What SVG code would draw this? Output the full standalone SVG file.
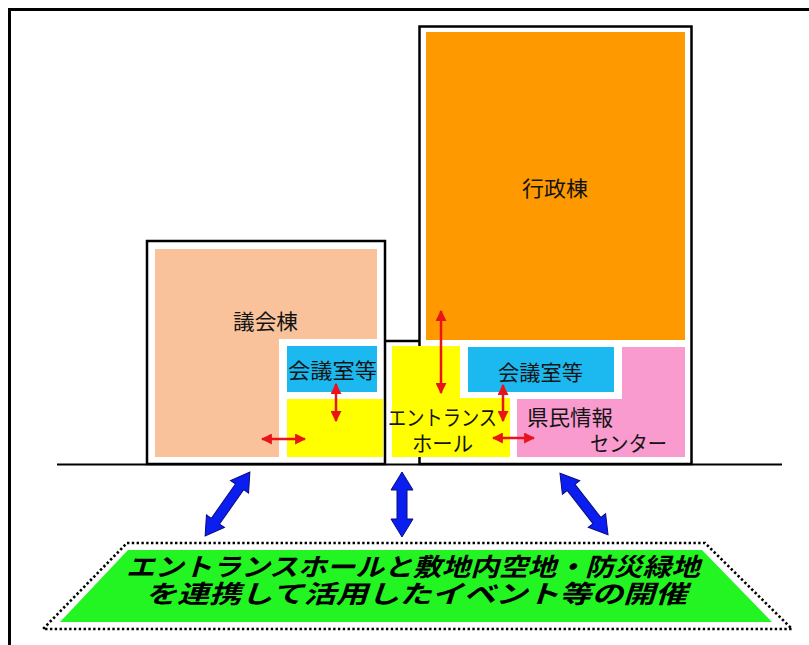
<svg xmlns="http://www.w3.org/2000/svg" width="809" height="645" viewBox="0 0 809 645">
<defs>
<style>
.lbl{font-family:"Noto Sans CJK JP","Noto Sans CJK SC",sans-serif;font-size:21px;fill:#141414}
.big{font-family:"Noto Sans CJK JP","Noto Sans CJK SC",sans-serif;font-size:25px;font-weight:bold;font-style:italic;fill:#000}
.bld{fill:none;stroke:#000;stroke-width:2.5}
.red{stroke:#e8141a;stroke-width:2.5;fill:none;marker-start:url(#rh);marker-end:url(#rh)}
.blu{fill:#0a1ef0;stroke:#0a0a80;stroke-width:1}
</style>
<marker id="rh" viewBox="0 0 10 10" refX="9" refY="5" markerWidth="4.4" markerHeight="4.4" orient="auto-start-reverse">
<path d="M0,0 L10,5 L0,10 z" fill="#e8141a"/>
</marker>
<path id="ba65" d="M-32.5,0 L-14.5,-11 L-14.5,-5 L14.5,-5 L14.5,-11 L32.5,0 L14.5,11 L14.5,5 L-14.5,5 L-14.5,11 Z"/>
<path id="ba78" d="M-39,0 L-21,-11 L-21,-5 L21,-5 L21,-11 L39,0 L21,11 L21,5 L-21,5 L-21,11 Z"/>
</defs>
<rect width="809" height="645" fill="#fff"/>
<path d="M9.5,645 V9.5 H809" fill="none" stroke="#000" stroke-width="3"/>

<g id="gikai">
<path d="M155,249 H377 V339 H279 V457 H155 Z" fill="#f9c29a"/>
<rect x="287" y="346" width="90" height="46" fill="#1cb9f0"/>
<rect x="287" y="399" width="96" height="58" fill="#ffff00"/>
<rect class="bld" x="147" y="241" width="238" height="223"/>
<text class="lbl" x="233" y="329" textLength="65" lengthAdjust="spacingAndGlyphs">議会棟</text>
<text class="lbl" x="288" y="378" textLength="89" lengthAdjust="spacingAndGlyphs">会議室等</text>
</g>

<g id="gyosei">
<rect x="426" y="32" width="259" height="308" fill="#ff9900"/>
<rect class="bld" x="419.5" y="26.5" width="272" height="437.5"/>
<text class="lbl" x="522" y="196" textLength="66" lengthAdjust="spacingAndGlyphs">行政棟</text>
</g>

<g id="entrance">
<path d="M392,346 H460 V398 H510 V457 H392 Z" fill="#ffff00"/>
<path class="bld" d="M385,341 H419.5"/>
<text class="lbl" x="388" y="425" textLength="109" lengthAdjust="spacingAndGlyphs">エントランス</text>
<text class="lbl" x="412" y="451" textLength="61" lengthAdjust="spacingAndGlyphs">ホール</text>
</g>

<g id="kaigi2">
<rect x="468" y="347" width="146" height="45" fill="#1cb9f0"/>
<text class="lbl" x="498" y="380" textLength="85" lengthAdjust="spacingAndGlyphs">会議室等</text>
</g>

<g id="kenmin">
<path d="M622,347 H685 V457 H517 V399 H622 Z" fill="#f99bcf"/>
<text class="lbl" x="527" y="425" textLength="86" lengthAdjust="spacingAndGlyphs">県民情報</text>
<text class="lbl" x="590" y="451" textLength="77" lengthAdjust="spacingAndGlyphs">センター</text>
</g>

<path d="M57,464.5 H782" stroke="#000" stroke-width="1.8"/>

<g id="event">
<path d="M127,543 H705 L792,629 H43 Z" fill="none" stroke="#000" stroke-width="2.6" stroke-dasharray="2.4 2.4"/>
<path d="M128,550 H702 L772,622 H60 Z" fill="#22f522"/>
<text class="big" x="126" y="576" textLength="574" lengthAdjust="spacingAndGlyphs">エントランスホールと敷地内空地・防災緑地</text>
<text class="big" x="145" y="603" textLength="542" lengthAdjust="spacingAndGlyphs">を連携して活用したイベント等の開催</text>
</g>

<g id="connectors">
<path class="red" d="M262,439 H305"/>
<path class="red" d="M336,384 V421"/>
<path class="red" d="M441,311 V393"/>
<path class="red" d="M503,385 V421"/>
<path class="red" d="M493,438 H534"/>
<use href="#ba78" class="blu" transform="translate(227.5,504) rotate(125)"/>
<use href="#ba65" class="blu" transform="translate(402,504.5) rotate(90)"/>
<use href="#ba78" class="blu" transform="translate(584,504) rotate(52)"/>
</g>
</svg>
